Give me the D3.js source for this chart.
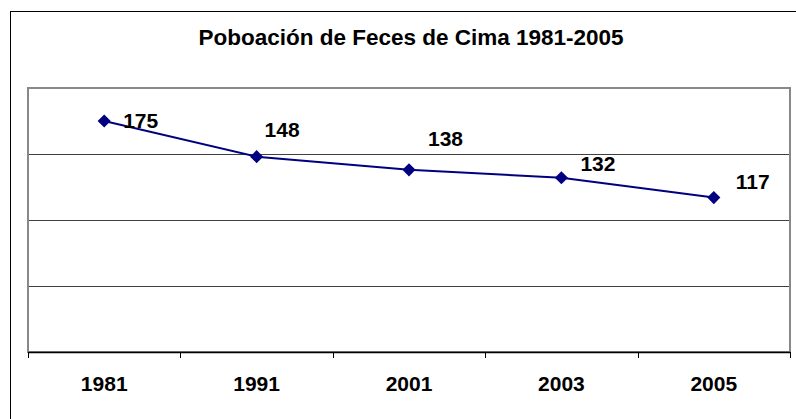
<!DOCTYPE html>
<html>
<head>
<meta charset="utf-8">
<script src="https://cdn.jsdelivr.net/npm/d3@7"></script>
<style>
  body { margin: 0; background: #fff; }
  svg { display: block; font-family: "Liberation Sans", Arial, sans-serif; }
</style>
</head>
<body>
<div id="container"></div>
<script>
// chart data
var years = ["1981", "1991", "2001", "2003", "2005"];
var population = [175, 148, 138, 132, 117];
var yTicks = [0, 50, 100, 150, 200];

// label nudges (px), Excel put them a bit oddly
var labelDx = [19, 8, 19, 19, 22];
var labelDy = [7, -20, -24, -7, -9];

var W = 796, H = 419;
var plot = {left: 28, top: 88, right: 790, bottom: 352};

var svg = d3.select("#container")
  .append("svg")
    .attr("width", W)
    .attr("height", H);

// outer chart border (runs off right and bottom)
svg.append("rect")
    .attr("x", 10.5).attr("y", 11.5)
    .attr("width", W).attr("height", H)
    .attr("fill", "none")
    .attr("stroke", "#000")
    .attr("stroke-width", 1);

svg.append("text")
    .attr("x", 411).attr("y", 45)
    .attr("text-anchor", "middle")
    .attr("font-size", "22.5px")
    .attr("font-weight", "bold")
    .attr("fill", "#000")
    .text("Poboación de Feces de Cima 1981-2005");

var x = d3.scaleBand()
    .domain(years)
    .range([plot.left, plot.right]);

var y = d3.scaleLinear()
    .domain([0, 200])
    .range([plot.bottom, plot.top]);

// gridlines
svg.selectAll("line.grid")
  .data(yTicks.slice(1, -1))
  .enter()
  .append("line")
    .attr("class", "grid")
    .attr("x1", plot.left).attr("x2", plot.right)
    .attr("y1", function(d){ return Math.round(y(d)) + 0.5; })
    .attr("y2", function(d){ return Math.round(y(d)) + 0.5; })
    .attr("stroke", "#404040")
    .attr("stroke-width", 1);

// plot area border
svg.append("rect")
    .attr("x", plot.left).attr("y", plot.top)
    .attr("width", plot.right - plot.left)
    .attr("height", plot.bottom - plot.top)
    .attr("fill", "none")
    .attr("stroke", "#888")
    .attr("stroke-width", 2);

// x axis
var xAxis = d3.axisBottom(x).tickSize(0).tickPadding(0);
var gx = svg.append("g")
    .attr("transform", "translate(0," + plot.bottom + ")")
    .call(xAxis);
gx.select(".domain").attr("stroke", "#000").attr("stroke-width", 1.5);
gx.selectAll("text")
    .attr("y", 39)
    .attr("dy", 0)
    .attr("font-size", "21px")
    .attr("font-weight", "bold")
    .attr("font-family", "Liberation Sans, Arial, sans-serif")
    .attr("fill", "#000");

// tick marks at band edges
var edges = years.map(function(d){ return x(d); }).concat([x.range()[1]]);
svg.selectAll("line.tick-edge")
  .data(edges)
  .enter()
  .append("line")
    .attr("class", "tick-edge")
    .attr("x1", function(d){ return Math.round(d) + 0.5; })
    .attr("x2", function(d){ return Math.round(d) + 0.5; })
    .attr("y1", plot.bottom).attr("y2", plot.bottom + 6)
    .attr("stroke", "#000")
    .attr("stroke-width", 1);

var cx = function(i){ return x(years[i]) + x.bandwidth() / 2; };

var line = d3.line()
    .x(function(d, i){ return cx(i); })
    .y(function(d){ return y(d); });

svg.append("path")
    .datum(population)
    .attr("d", line)
    .attr("fill", "none")
    .attr("stroke", "#000080")
    .attr("stroke-width", 2);

svg.selectAll("path.marker")
  .data(population)
  .enter()
  .append("path")
    .attr("class", "marker")
    .attr("d", d3.symbol().type(d3.symbolDiamond2).size(110))
    .attr("transform", function(d, i){ return "translate(" + cx(i) + "," + y(d) + ")"; })
    .attr("fill", "#000080");

svg.selectAll("text.label")
  .data(population)
  .enter()
  .append("text")
    .attr("class", "label")
    .attr("x", function(d, i){ return cx(i) + labelDx[i]; })
    .attr("y", function(d, i){ return y(d) + labelDy[i]; })
    .attr("font-size", "21px")
    .attr("font-weight", "bold")
    .attr("fill", "#000")
    .text(function(d){ return d; });
</script>
</body>
</html>
